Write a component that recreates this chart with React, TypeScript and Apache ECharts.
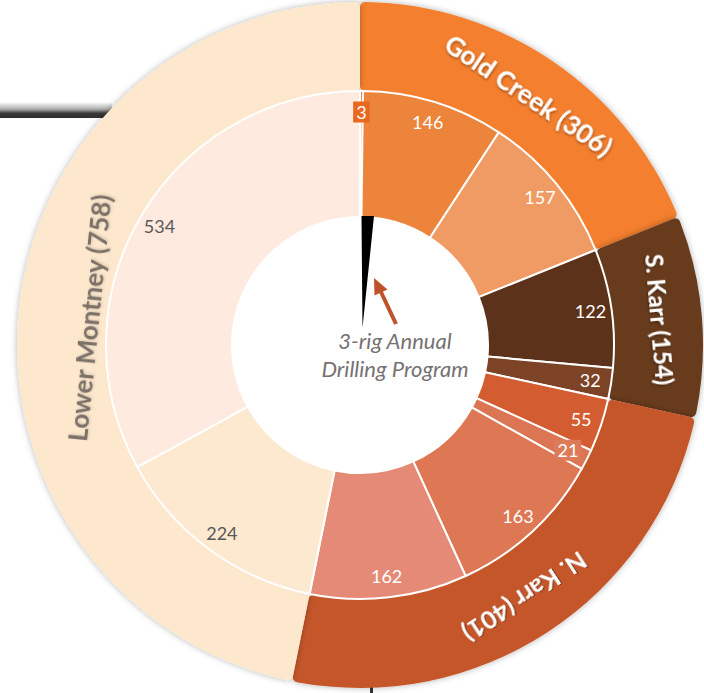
import React, { useEffect, useRef } from "react";
import * as echarts from "echarts";

// Regions (outer ring) and their well counts
const regions = ["Gold Creek", "S. Karr", "N. Karr", "Lower Montney"];
const regionTotals = [306, 154, 401, 758];
const regionColors = ["#f47f2d", "#673a1f", "#c5562c", "#fde8cd"];
const regionLabelColors = ["#ffffff", "#ffffff", "#ffffff", "#7b7168"];
const regionLabelSizes = [26, 24, 25, 26];

// Pads / blocks inside each region (inner ring), clockwise from 12 o'clock
const blockCounts = [3, 146, 157, 122, 32, 55, 21, 163, 162, 224, 534];
const blockColors = [
  "#e9671f", "#ec843b", "#f09b63",
  "#5d321a", "#7c4326",
  "#d35c30", "#dc7553", "#dd7754", "#e58a76",
  "#fde9d0", "#feeadf",
];
const blockLabelColors = [
  "#ffffff", "#ffffff", "#ffffff",
  "#ffffff", "#ffffff",
  "#ffffff", "#ffffff", "#ffffff", "#ffffff",
  "#595959", "#595959",
];
// Small labels that sit on a filled tag
const blockLabelTags: Record<number, string> = { 0: "#e9671f", 6: "#dd7a58" };

const centerTitle = ["3-rig Annual", "Drilling Program"];

const CX = 360;
const CY = 345;
const FONT = "Lato, 'Open Sans', sans-serif";

export default function App() {
  const ref = useRef<HTMLDivElement>(null);

  useEffect(() => {
    if (!ref.current) return;
    const chart = echarts.init(ref.current, undefined, { renderer: "svg" });

    const grandTotal = regionTotals.reduce((a, b) => a + b, 0);
    const midAngles: number[] = [];
    let acc = 0;
    regionTotals.forEach((v) => {
      midAngles.push(((acc + v / 2) / grandTotal) * 360);
      acc += v;
    });

    // Lower Montney's caption sits nearer the hub, so it gets its own band
    const nearHub = (i: number) => i === 3;

    const regionLabel = (i: number, show: boolean) => ({
      show,
      rotate: -midAngles[i],
      color: regionLabelColors[i],
      fontSize: regionLabelSizes[i],
      textShadowColor: i === 3 ? "rgba(0,0,0,0.15)" : "rgba(0,0,0,0.45)",
    });

    const regionData = regions.map((name, i) => ({
      name,
      value: regionTotals[i],
      itemStyle: { color: regionColors[i] },
      label: regionLabel(i, !nearHub(i)),
    }));

    const regionInnerLabelData = regions.map((name, i) => ({
      name,
      value: regionTotals[i],
      itemStyle: { color: "rgba(0,0,0,0)" },
      label: regionLabel(i, nearHub(i)),
    }));

    const blockData = blockCounts.map((v, i) => ({
      name: String(i),
      value: v,
      itemStyle: { color: blockColors[i] },
    }));

    const blockLabelData = blockCounts.map((v, i) => ({
      name: "l" + i,
      value: v,
      itemStyle: { color: "rgba(0,0,0,0)" },
      label: {
        color: blockLabelColors[i],
        backgroundColor: blockLabelTags[i] || "transparent",
        padding: blockLabelTags[i] ? [2, 3, 1, 3] : 0,
      },
    }));

    const regionLabelBase = {
      show: true,
      position: "inside",
      formatter: "{b} ({c})",
      fontFamily: FONT,
      fontWeight: "bold",
      textShadowBlur: 3,
      textShadowOffsetX: 1,
      textShadowOffsetY: 1,
    };

    chart.setOption({
      animation: false,
      backgroundColor: "#ffffff",
      series: [
        {
          type: "pie",
          center: [CX, CY],
          radius: [254, 343],
          startAngle: 90,
          silent: true,
          itemStyle: {
            borderRadius: 5,
            shadowBlur: 6,
            shadowColor: "rgba(0,0,0,0.3)",
          },
          label: regionLabelBase,
          labelLine: { show: false },
          emphasis: { disabled: true },
          data: regionData,
          z: 2,
        },
        {
          type: "pie",
          center: [CX, CY],
          radius: [128, 254],
          startAngle: 90,
          silent: true,
          itemStyle: { borderColor: "#ffffff", borderWidth: 2 },
          label: { show: false },
          labelLine: { show: false },
          emphasis: { disabled: true },
          data: blockData,
          z: 3,
        },
        {
          type: "pie",
          center: [CX, CY],
          radius: [206, 254],
          startAngle: 90,
          silent: true,
          itemStyle: { borderWidth: 0 },
          label: {
            show: true,
            position: "inside",
            formatter: "{c}",
            fontFamily: FONT,
            fontSize: 18,
          },
          labelLine: { show: false },
          emphasis: { disabled: true },
          data: blockLabelData,
          z: 4,
        },
        {
          type: "pie",
          center: [CX, CY],
          radius: [254, 284],
          startAngle: 90,
          silent: true,
          itemStyle: { borderWidth: 0 },
          label: regionLabelBase,
          labelLine: { show: false },
          emphasis: { disabled: true },
          data: regionInnerLabelData,
          z: 5,
        },
      ],
      graphic: [
        {
          type: "rect",
          z: 0,
          shape: { x: 0, y: 102, width: 112, height: 16 },
          style: {
            fill: new echarts.graphic.LinearGradient(0, 0, 0, 1, [
              { offset: 0, color: "rgba(70,70,70,0)" },
              { offset: 0.45, color: "rgba(70,70,70,0.45)" },
              { offset: 0.7, color: "#3a3a3a" },
              { offset: 1, color: "#2e2e2e" },
            ]),
          },
        },
        {
          type: "rect",
          z: 0,
          shape: { x: 370, y: 687, width: 3, height: 6 },
          style: { fill: "#333333" },
        },
        {
          type: "polygon",
          z: 100,
          shape: { points: [[361.5, 216], [374, 216], [362.5, 328]] },
          style: { fill: "#000000" },
        },
        {
          type: "line",
          z: 100,
          shape: { x1: 396, y1: 324, x2: 381, y2: 292 },
          style: { stroke: "#c0522b", lineWidth: 4 },
        },
        {
          type: "polygon",
          z: 100,
          shape: { points: [[374, 278], [387.5, 289.5], [374.5, 295.5]] },
          style: { fill: "#c0522b" },
        },
        {
          type: "text",
          z: 100,
          x: 395,
          y: 340,
          style: {
            text: centerTitle[0],
            fill: "#767171",
            font: `italic 22px ${FONT}`,
            align: "center",
            verticalAlign: "middle",
          },
        },
        {
          type: "text",
          z: 100,
          x: 395,
          y: 368,
          style: {
            text: centerTitle[1],
            fill: "#767171",
            font: `italic 22px ${FONT}`,
            align: "center",
            verticalAlign: "middle",
          },
        },
      ],
    });

    return () => chart.dispose();
  }, []);

  return (
    <div
      ref={ref}
      style={{ position: "absolute", left: 0, top: 0, width: 704, height: 693 }}
    />
  );
}
